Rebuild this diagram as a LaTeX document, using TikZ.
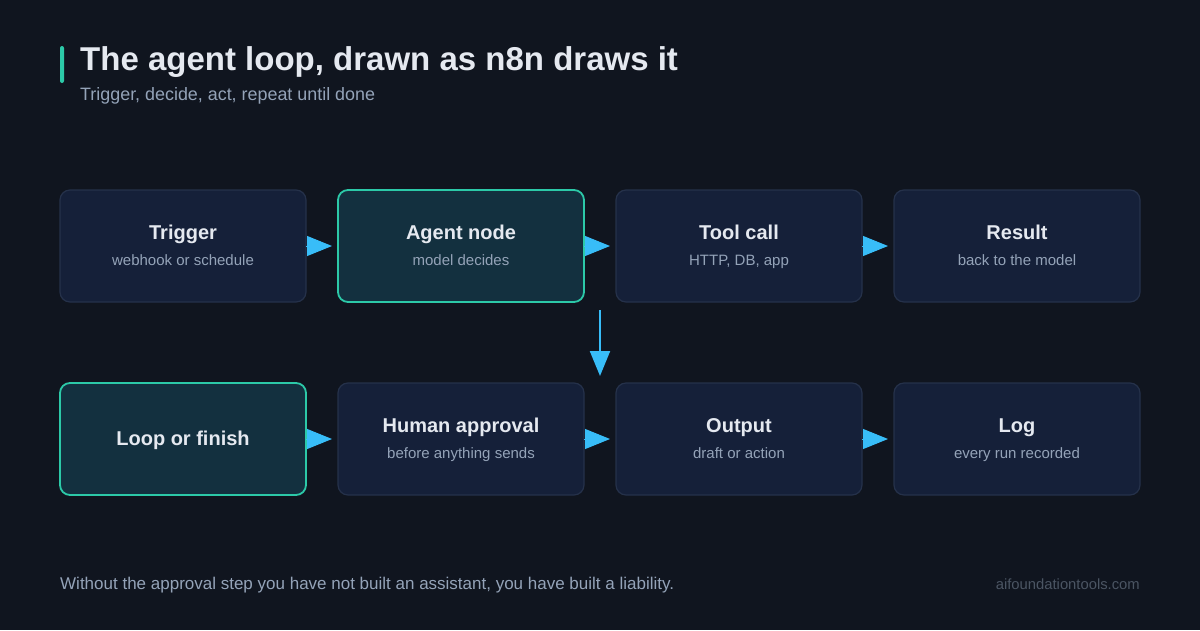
\documentclass[tikz,border=0pt]{standalone}
\usepackage{fontspec}
\setmainfont{Liberation Sans}
\usetikzlibrary{positioning, arrows.meta, calc}
\definecolor{PageBg}{HTML}{10151F}
\definecolor{CardFill}{HTML}{152039}
\definecolor{CardLine}{HTML}{25314A}
\definecolor{HotFill}{HTML}{13303F}
\definecolor{HotLine}{HTML}{2CC9A8}
\definecolor{HeadText}{HTML}{E5E9F0}
\definecolor{SubText}{HTML}{94A3B8}
\definecolor{FlowBlue}{HTML}{38BDF8}
\definecolor{MarkText}{HTML}{4B5563}

\begin{document}
\begin{tikzpicture}[x=1pt, y=1pt,
    card/.style={draw=CardLine, fill=CardFill, line width=1.2pt, rounded corners=10pt,
      minimum width=246pt, minimum height=112pt, align=center, inner sep=0pt, outer sep=0pt,
      font=\fontsize{15}{26}\selectfont, text=SubText},
    hotcard/.style={card, draw=HotLine, fill=HotFill, line width=1.8pt},
    flow/.style={FlowBlue, line width=1pt, -{Triangle[length=25pt, width=20pt]}, shorten >=6pt},
    node distance=81pt and 32pt]
    \useasboundingbox (0,0) rectangle (1200,-630);
    \fill[PageBg] (0,0) rectangle (1200,-630);
    \newcommand{\cardhead}[1]{{\fontsize{20}{26}\bfseries\selectfont\color{HeadText}\rule{0pt}{16.5pt}#1}}
    \newcommand{\cardtext}[2]{\cardhead{#1}\\#2\rule[-4pt]{0pt}{4pt}}

    % Heading
    \fill[HotLine, rounded corners=2pt] (60,-46) rectangle (64,-83);
    \node[anchor=base west, inner sep=0pt, text=HeadText, font=\fontsize{33}{40}\bfseries\selectfont]
      (title) at (80,-70) {The agent loop, drawn as n8n draws it};
    \node[anchor=base west, inner sep=0pt, text=SubText, font=\fontsize{17.9}{21}\selectfont]
      (subtitle) at (80,-100) {Trigger, decide, act, repeat until done};

    % Top row
    \node[card] (trigger) at (183,-246) {\cardtext{Trigger}{webhook or schedule}};
    \node[hotcard, right=of trigger] (agent) {\cardtext{Agent node}{model decides}};
    \node[card, right=of agent] (tool) {\cardtext{Tool call}{HTTP, DB, app}};
    \node[card, right=of tool] (result) {\cardtext{Result}{back to the model}};

    % Bottom row
    \node[hotcard, below=of trigger] (loop) {\cardhead{Loop or finish}};
    \node[card, right=of loop] (human) {\cardtext{Human approval}{before anything sends}};
    \node[card, right=of human] (output) {\cardtext{Output}{draft or action}};
    \node[card, right=of output] (log) {\cardtext{Log}{every run recorded}};

    % Arrows
    \draw[flow] (trigger) -- (agent);
    \draw[flow] (agent) -- (tool);
    \draw[flow] (tool) -- (result);
    \draw[flow] (loop) -- (human);
    \draw[flow] (human) -- (output);
    \draw[flow] (output) -- (log);
    \coordinate (dropstart) at ($($(agent.south east)!0.5!(tool.south west)$)+(0,-8)$);
    \coordinate (dropend) at ($($(human.north east)!0.5!(output.north west)$)+(0,7)$);
    \draw[FlowBlue, line width=2pt, -{Triangle[length=25pt, width=20pt]}] (dropstart) -- (dropend);

    % Footer
    \node[anchor=base west, inner sep=0pt, text=SubText, font=\fontsize{17}{20}\selectfont]
      (note) at (60,-589) {Without the approval step you have not built an assistant, you have built a liability.};
    \node[anchor=base east, inner sep=0pt, text=MarkText, font=\fontsize{14.8}{18}\selectfont]
      (site) at (1140,-589) {aifoundationtools.com};
  \end{tikzpicture}
\end{document}
